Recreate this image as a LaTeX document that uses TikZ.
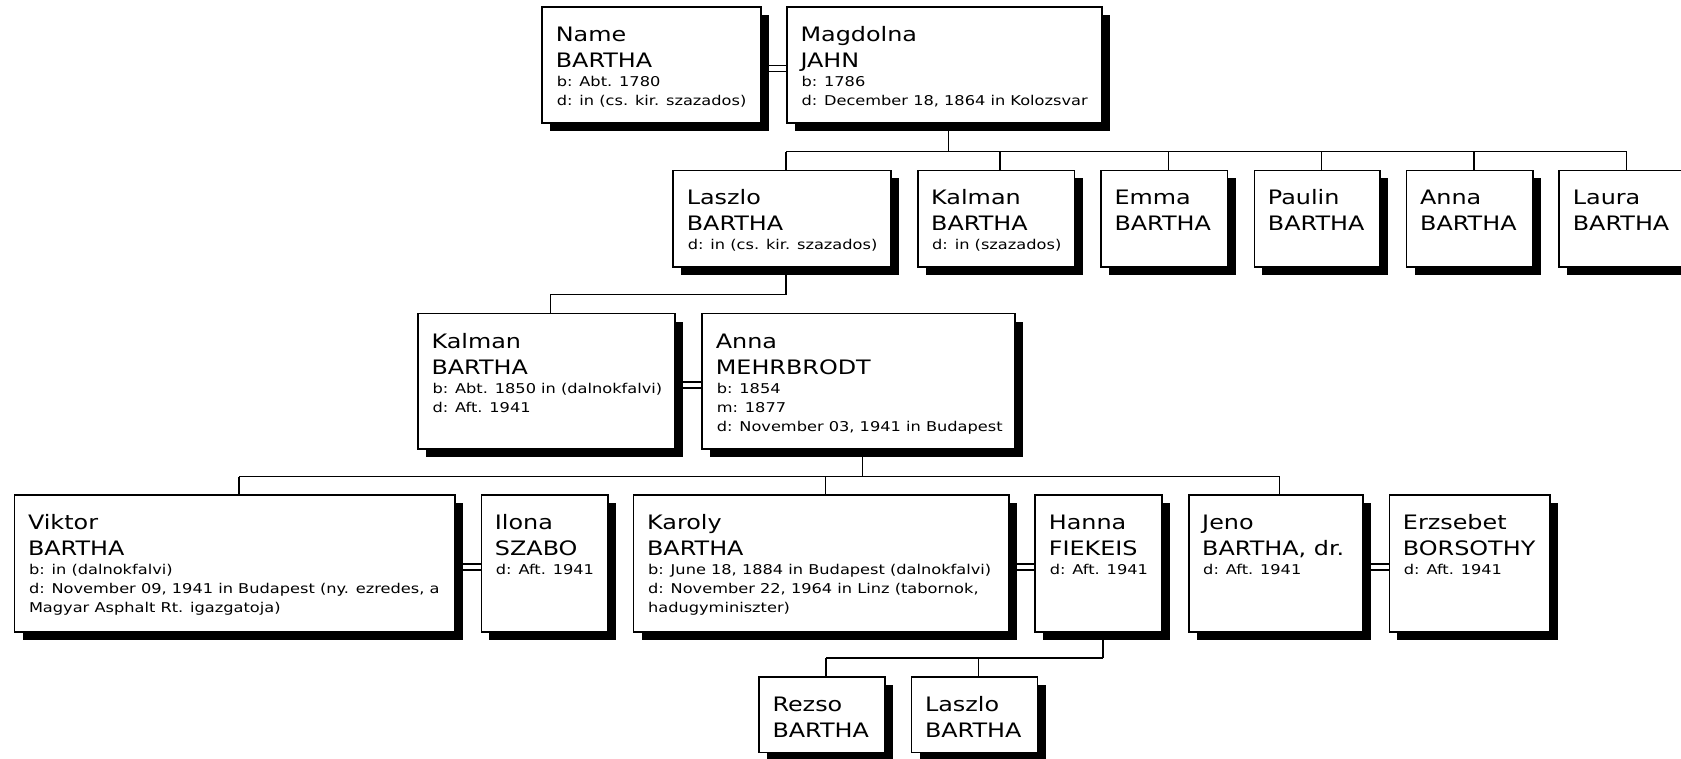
\documentclass[tikz,border=0pt]{standalone}
\usepackage{fontspec}
\newfontfamily\pf[FakeStretch=1.2]{DejaVu Sans}
\usetikzlibrary{shadows}
\pgfdeclarelayer{bg}
\pgfsetlayers{bg,main}
\tikzset{
  pbox/.style={draw=black, fill=white, line width=1.7pt, outer sep=0pt, inner sep=0pt,
    anchor=north west,
    drop shadow={shadow xshift=8pt, shadow yshift=-8pt, fill=black, opacity=1}},
  bigtext/.style={font=\pf\fontsize{19.9}{23}\selectfont, anchor=base west, inner sep=0pt, outer sep=0pt},
  smalltext/.style={font=\pf\fontsize{13.5}{16}\selectfont, anchor=base west, inner sep=0pt, outer sep=0pt},
  conn/.style={line width=1.4pt, draw=black},
}
\newcommand\pers[8]{%
  \node[pbox, minimum width=#4pt, minimum height=#5pt] (#1) at (#2,#3) {};
  \node[bigtext] (#1-f) at ([xshift=13.5pt,yshift=-34.5pt]#1.north west) {#6};
  \node[bigtext] (#1-l) at ([xshift=13.5pt,yshift=-60.5pt]#1.north west) {#7};
  \def\plines{#8}%
  \ifx\plines\empty\else
    \foreach \t [count=\i] in {#8} {\node[smalltext] (#1-s\i) at ([xshift=14.5pt,yshift={-60.5pt-19pt*\i}]#1.north west) {\t};}%
  \fi
}
\begin{document}
\begin{tikzpicture}[x=1pt, y=-1pt]
\useasboundingbox (0,0) rectangle (1681,759);
\clip (0,0) rectangle (1681,759);

% Row 1
\pers{name}{542.3}{7.3}{218.4}{116}{Name}{BARTHA}{b: Abt. 1780, d: in (cs. kir. szazados)}
\pers{mag}{787}{7.3}{315}{116}{Magdolna}{JAHN}{b: 1786, {d: December 18, 1864 in Kolozsvar}}
% Row 2
\pers{lasz}{673.3}{170.5}{217.4}{96.3}{Laszlo}{BARTHA}{d: in (cs. kir. szazados)}
\pers{kalm}{917.7}{170.5}{156.8}{96.3}{Kalman}{BARTHA}{d: in (szazados)}
\pers{emma}{1101}{170.5}{126.6}{96.3}{Emma}{BARTHA}{}
\pers{paul}{1254.4}{170.5}{125.6}{96.3}{Paulin}{BARTHA}{}
\pers{anna}{1406.6}{170.5}{126.4}{96.3}{Anna}{BARTHA}{}
\pers{laura}{1559.3}{170.5}{126.7}{96.3}{Laura}{BARTHA}{}
% Row 3
\pers{kalb}{418}{313.6}{257}{135.4}{Kalman}{BARTHA}{b: Abt. 1850 in (dalnokfalvi), d: Aft. 1941}
\pers{annm}{702.3}{313.6}{312.7}{135.4}{Anna}{MEHRBRODT}{b: 1854, m: 1877, {d: November 03, 1941 in Budapest}}
% Row 4
\pers{vik}{14.5}{495}{440.8}{137}{Viktor}{BARTHA}{b: in (dalnokfalvi), {d: November 09, 1941 in Budapest (ny. ezredes, a}, Magyar Asphalt Rt. igazgatoja)}
\pers{ilona}{481.4}{495}{126.6}{137}{Ilona}{SZABO}{d: Aft. 1941}
\pers{karoly}{633.6}{495}{375.2}{137}{Karoly}{BARTHA}{{b: June 18, 1884 in Budapest (dalnokfalvi)}, {d: November 22, 1964 in Linz (tabornok,}, hadugyminiszter)}
\pers{hanna}{1035.3}{495}{127}{137}{Hanna}{FIEKEIS}{d: Aft. 1941}
\pers{jeno}{1188.7}{495}{174}{137}{Jeno}{BARTHA, dr.}{d: Aft. 1941}
\pers{erz}{1389.4}{495}{160.9}{137}{Erzsebet}{BORSOTHY}{d: Aft. 1941}
% Row 5
\pers{rezso}{759}{677.3}{126.3}{75.3}{Rezso}{BARTHA}{}
\pers{laszb}{911.5}{677.3}{126}{75.3}{Laszlo}{BARTHA}{}

\begin{pgfonlayer}{bg}
  \coordinate (bar1) at (0,151.7);
  \coordinate (bar2) at (0,294.5);
  \coordinate (bar3) at (0,476.7);
  \coordinate (bar4) at (0,658);
  % marriages
  \foreach \a/\b in {name/mag, kalb/annm, vik/ilona, karoly/hanna, jeno/erz}
    \draw[conn] ([yshift=-0.5pt]\a.east) -- ([yshift=-0.5pt]\b.west)
                ([yshift=-6.5pt]\a.east) -- ([yshift=-6.5pt]\b.west);
  % family 1
  \draw[conn] ([xshift=4pt]mag.south) -- ([xshift=4pt]mag.south |- bar1);
  \draw[conn] ([xshift=4pt]lasz.north |- bar1) -- ([xshift=4pt]laura.north |- bar1);
  \foreach \c in {lasz,kalm,emma,paul,anna,laura}
    \draw[conn] ([xshift=4pt]\c.north) -- ([xshift=4pt]\c.north |- bar1);
  % family 2
  \draw[conn] ([xshift=4pt]lasz.south) -- ([xshift=4pt]lasz.south |- bar2)
              -- ([xshift=4pt]kalb.north |- bar2) -- ([xshift=4pt]kalb.north);
  % family 3
  \draw[conn] ([xshift=4pt]annm.south) -- ([xshift=4pt]annm.south |- bar3);
  \draw[conn] ([xshift=4pt]vik.north |- bar3) -- ([xshift=4pt]jeno.north |- bar3);
  \foreach \c in {vik,karoly,jeno}
    \draw[conn] ([xshift=4pt]\c.north) -- ([xshift=4pt]\c.north |- bar3);
  % family 4
  \draw[conn] ([xshift=4pt]hanna.south) -- ([xshift=4pt]hanna.south |- bar4);
  \draw[conn] ([xshift=4pt]rezso.north |- bar4) -- ([xshift=4pt]hanna.south |- bar4);
  \foreach \c in {rezso,laszb}
    \draw[conn] ([xshift=4pt]\c.north) -- ([xshift=4pt]\c.north |- bar4);
\end{pgfonlayer}
\end{tikzpicture}
\end{document}
